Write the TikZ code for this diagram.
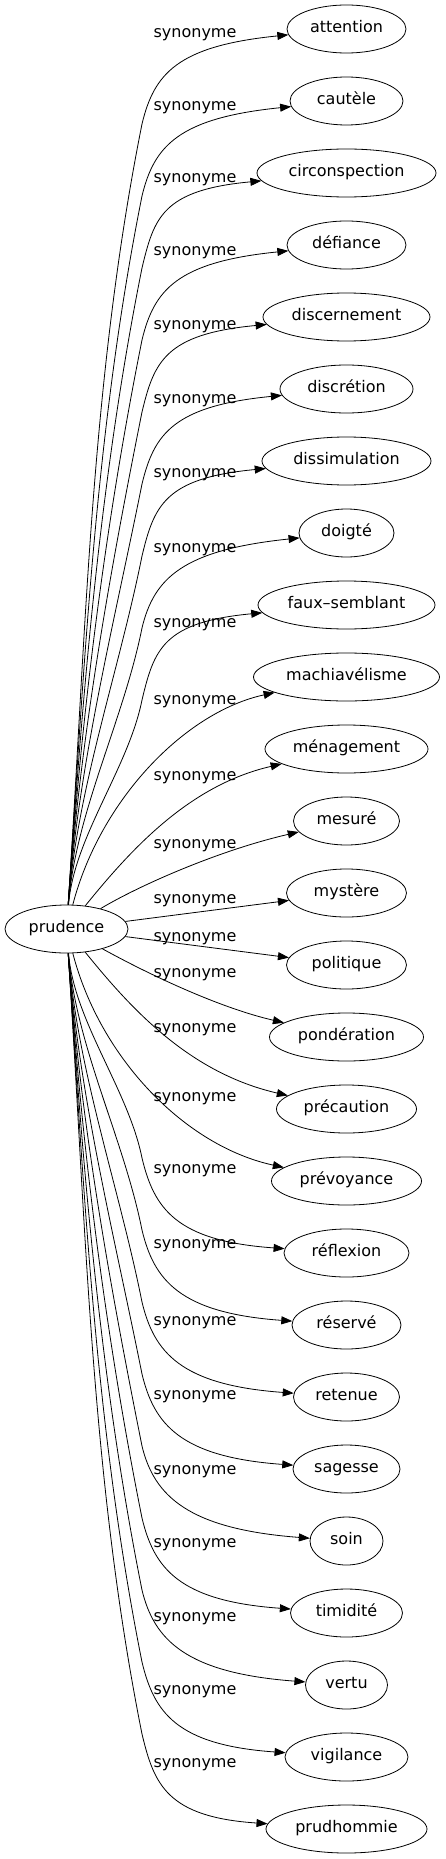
\documentclass[tikz,border=0pt]{standalone}
\usepackage{fontspec}
\setmainfont{DejaVu Sans}
\usetikzlibrary{shapes.geometric,arrows.meta}
\begin{document}
\begin{tikzpicture}[x=1pt,y=-1pt,
  every node/.style={font=\fontsize{16}{19}\selectfont, text=black},
  word/.style={draw=black, ellipse, line width=0.8pt, inner sep=0pt, minimum height=48pt, text height=1.0em, text depth=0.25em},
  lab/.style={anchor=base, inner sep=0pt},
  link/.style={line width=0.8pt, -{Triangle[length=11pt,width=8pt]}}]
\fill[white] (0,0) rectangle (445,1859);
\useasboundingbox (0,0) rectangle (445,1859);
\node[word, minimum width=123pt] (prud) at (66.5,929) {prudence};
\node[word, minimum width=119pt] (n0) at (346.5,29) {attention};
\node[word, minimum width=113pt] (n1) at (346.5,101) {cautèle};
\node[word, minimum width=179pt] (n2) at (346.5,173) {circonspection};
\node[word, minimum width=119pt] (n3) at (346.5,245) {défiance};
\node[word, minimum width=167pt] (n4) at (346.5,317) {discernement};
\node[word, minimum width=133pt] (n5) at (346.5,389) {discrétion};
\node[word, minimum width=169pt] (n6) at (346.5,461) {dissimulation};
\node[word, minimum width=95pt] (n7) at (346.5,533) {doigté};
\node[word, minimum width=177pt] (n8) at (346.5,605) {faux–semblant};
\node[word, minimum width=186pt] (n9) at (346.5,677) {machiavélisme};
\node[word, minimum width=163pt] (n10) at (346.5,749) {ménagement};
\node[word, minimum width=106pt] (n11) at (346.5,821) {mesuré};
\node[word, minimum width=120pt] (n12) at (346.5,893) {mystère};
\node[word, minimum width=120pt] (n13) at (346.5,965) {politique};
\node[word, minimum width=154pt] (n14) at (346.5,1037) {pondération};
\node[word, minimum width=140pt] (n15) at (346.5,1109) {précaution};
\node[word, minimum width=150pt] (n16) at (346.5,1181) {prévoyance};
\node[word, minimum width=125pt] (n17) at (346.5,1253) {réflexion};
\node[word, minimum width=109pt] (n18) at (346.5,1325) {réservé};
\node[word, minimum width=106pt] (n19) at (346.5,1397) {retenue};
\node[word, minimum width=107pt] (n20) at (346.5,1469) {sagesse};
\node[word, minimum width=73pt] (n21) at (346.5,1541) {soin};
\node[word, minimum width=112pt] (n22) at (346.5,1613) {timidité};
\node[word, minimum width=82pt] (n23) at (346.5,1685) {vertu};
\node[word, minimum width=123pt] (n24) at (346.5,1757) {vigilance};
\node[word, minimum width=161pt] (n25) at (346.5,1829) {prudhommie};
% upper far edges
\foreach \i/\y/\w in {0/29/119, 1/101/113, 2/173/179, 3/245/119, 4/317/167, 5/389/133, 6/461/169, 7/533/95, 8/605/177} {
  \pgfmathsetmacro\ay{\y+95}
  \pgfmathsetmacro\L{905-\ay}
  \pgfmathsetmacro\ca{70+0.02*\L}
  \pgfmathsetmacro\cb{905-\L/3}
  \pgfmathsetmacro\cc{142-0.2*\L/3}
  \pgfmathsetmacro\cd{\ay+\L/3}
  \pgfmathsetmacro\ce{\y+45}
  \pgfmathsetmacro\cfx{177+0.5*(346.5-\w/2-287)}
  \pgfmathsetmacro\cfy{\y+17}
  \draw[link] (prud) .. controls (\ca,\cb) and (\cc,\cd) .. (142,\ay) .. controls (154,\ce) and (\cfx,\cfy) .. (n\i);
}
% lower far edges
\foreach \i/\y/\w in {17/1253/125, 18/1325/109, 19/1397/106, 20/1469/107, 21/1541/73, 22/1613/112, 23/1685/82, 24/1757/123, 25/1829/161} {
  \pgfmathsetmacro\ay{\y-95}
  \pgfmathsetmacro\L{\ay-953}
  \pgfmathsetmacro\ca{70+0.02*\L}
  \pgfmathsetmacro\cb{953+\L/3}
  \pgfmathsetmacro\cc{142-0.2*\L/3}
  \pgfmathsetmacro\cd{\ay-\L/3}
  \pgfmathsetmacro\ce{\y-45}
  \pgfmathsetmacro\cfx{177+0.5*(346.5-\w/2-287)}
  \pgfmathsetmacro\cfy{\y-12}
  \draw[link] (prud) .. controls (\ca,\cb) and (\cc,\cd) .. (142,\ay) .. controls (154,\ce) and (\cfx,\cfy) .. (n\i);
}
% near edges
\draw[link] (prud) .. controls (100,800) and (185,712) .. (n9);
\draw[link] (prud) .. controls (132,848) and (190,785) .. (n10);
\draw[link] (prud) .. controls (140,885) and (220,850) .. (n11);
\draw[link] (prud) -- (n12);
\draw[link] (prud) -- (n13);
\draw[link] (prud) .. controls (150,975) and (220,1008) .. (n14);
\draw[link] (prud) .. controls (132,1010) and (190,1073) .. (n15);
\draw[link] (prud) .. controls (100,1058) and (185,1146) .. (n16);
% labels
\foreach \j/\ly in {0/33, 1/106, 2/178, 3/251, 4/325, 5/398, 6/472, 7/547, 8/622, 9/699, 10/775, 11/843, 12/898, 13/936, 14/972, 15/1027, 16/1096, 17/1168, 18/1243, 19/1320, 20/1394, 21/1469, 22/1542, 23/1616, 24/1689, 25/1762} {
  \pgfmathsetmacro\by{\ly+5}
  \node[lab] (l\j) at (195,\by) {synonyme};
}
\end{tikzpicture}
\end{document}
